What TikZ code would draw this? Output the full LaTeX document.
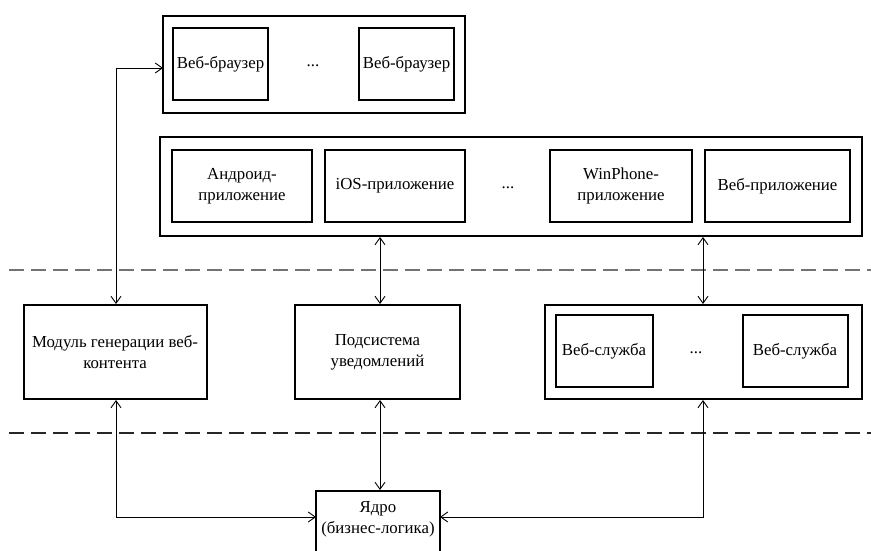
\documentclass[tikz,border=0pt]{standalone}
\usepackage{fontspec}
\setmainfont{Liberation Serif}
\usetikzlibrary{arrows.meta,calc}
\begin{document}
\begin{tikzpicture}[x=1pt,y=-1pt,
  box/.style={draw,line width=2pt,inner sep=0pt},
  txt/.style={font=\fontsize{16.8}{21}\selectfont,align=center},
  conn/.style={line width=0.9pt,{Straight Barb[length=7pt,width=10pt,line width=0.9pt]}-{Straight Barb[length=7pt,width=10pt,line width=0.9pt]}},
  sep/.style={dash pattern=on 15pt off 7pt}
]
\useasboundingbox (0,0) rectangle (871,551);
\clip (0,0) rectangle (871,551);
% browsers
\node[box,minimum width=302,minimum height=97] (brw) at (314,64.5) {};
\node[box,txt,minimum width=95,minimum height=72] (b1) at (220.5,64) {Веб-браузер};
\node[txt] (bdots) at (313,66) {...};
\node[box,txt,minimum width=95,minimum height=72] (b2) at (406.5,64) {Веб-браузер};
% apps
\node[box,minimum width=702,minimum height=99] (apps) at (511,186.5) {};
\node[box,txt,minimum width=140,minimum height=72] (a1) at (242,186) {Андроид-\\приложение};
\node[box,txt,minimum width=140,minimum height=72] (a2) at (395,186) {iOS-приложение};
\node[txt] (adots) at (508,188) {...};
\node[box,txt,minimum width=142,minimum height=72] (a3) at (621,186) {WinPhone-\\приложение};
\node[box,txt,minimum width=145,minimum height=72] (a4) at (777.5,186) {Веб-приложение};
% separators
\coordinate (s1a) at (9,270);
\coordinate (s1b) at (871,270);
\draw[sep,line width=2pt,black!55] (s1a) -- (s1b);
\coordinate (s2a) at (9,433);
\coordinate (s2b) at (871,433);
\draw[sep,line width=2.4pt,black!85] (s2a) -- (s2b);
% middle row
\node[box,txt,minimum width=183,minimum height=94] (mod) at (115,352) {Модуль генерации веб-\\контента};
\node[box,txt,minimum width=165,minimum height=94] (notif) at (377.5,352) {Подсистема\\уведомлений};
\node[box,minimum width=317,minimum height=94] (ws) at (703.5,352) {};
\node[box,txt,minimum width=97,minimum height=72] (w1) at (604,351) {Веб-служба};
\node[txt] (wdots) at (696,353) {...};
\node[box,txt,minimum width=105,minimum height=72] (w2) at (795,351) {Веб-служба};
% core
\node[box,minimum width=124,minimum height=80,anchor=north] (core) at (378,490) {};
\node[txt] (coretxt) at (378,519) {Ядро\\(бизнес-логика)};
% connectors
\coordinate (bIn) at (163,68);
\coordinate (cL) at (316,517);
\coordinate (cR) at (440,517);
\draw[conn] (mod.north -| 116,0) |- (bIn);
\draw[conn] (apps.south -| 380,0) -- (notif.north -| 380,0);
\draw[conn] (apps.south -| 703,0) -- (ws.north -| 703,0);
\draw[conn] (notif.south -| 380,0) -- (core.north -| 380,0);
\draw[conn] (mod.south -| 116,0) |- (cL);
\draw[conn] (ws.south -| 703,0) |- (cR);
\end{tikzpicture}
\end{document}
